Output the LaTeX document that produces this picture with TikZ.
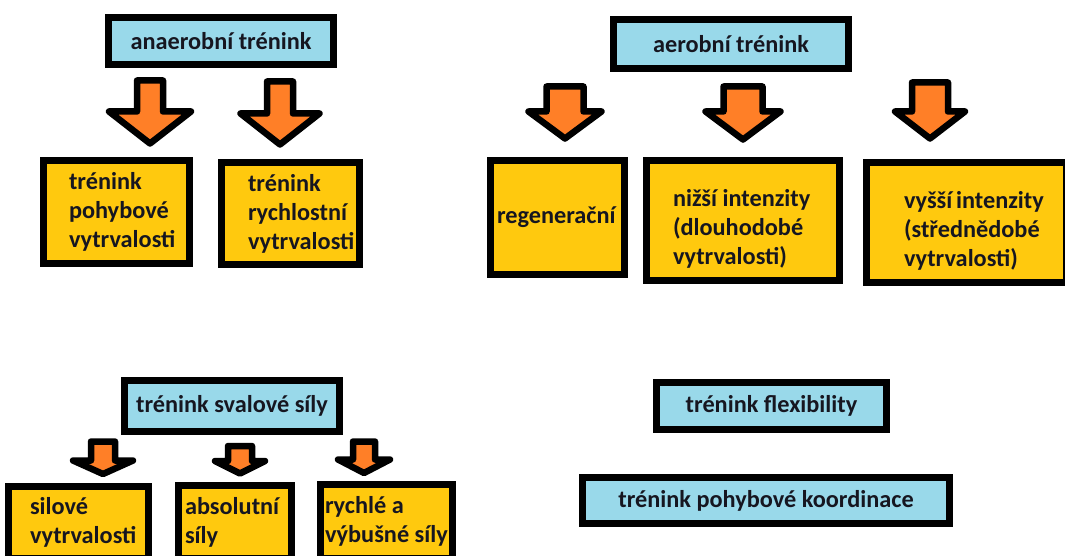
\documentclass[tikz,border=0pt]{standalone}
\usepackage{fontspec}
\setmainfont{Carlito}

\definecolor{boxblue}{RGB}{153,217,234}
\definecolor{boxyellow}{RGB}{255,201,14}
\definecolor{arroworange}{RGB}{255,127,39}
\definecolor{inkdark}{RGB}{22,22,32}

\newcommand{\boxfont}{\bfseries\fontsize{24.3}{29}\selectfont\hyphenpenalty 10000\relax}
\newcommand{\lowstrut}{\rule{0pt}{34pt}}

\tikzset{
  labelfont/.style={font=\boxfont, text=inkdark},
  headbox/.style={draw=black, line width=7.5pt, fill=boxblue, inner sep=0pt, labelfont},
  itembox/.style={draw=black, line width=7.5pt, fill=boxyellow, inner ysep=0pt, align=flush left, labelfont},
  arrowshape/.style={draw=black, line width=6.5pt, fill=arroworange, line join=round}
}

% block arrow: centre x, top, shoulder, tip, shaft half width, head half width
\newcommand{\blockarrow}[6]{%
  \draw[arrowshape] ({#1-#5},#2) -- ({#1+#5},#2) -- ({#1+#5},#3) -- ({#1+#6},#3)
    -- (#1,#4) -- ({#1-#6},#3) -- ({#1-#5},#3) -- cycle;}

\begin{document}
\begin{tikzpicture}[x=1pt, y=-1pt]
    \fill[white] (0,0) rectangle (1065,556);
    \useasboundingbox (0,0) rectangle (1065,556);
    \clip (0,0) rectangle (1065,556);

    % Anaerobic branch
    \node[headbox, minimum width=225pt, minimum height=47pt] (anaerobni) at (221,41) {anaerobní trénink};
    \node[itembox, minimum height=103pt, inner xsep=25.5pt, text width=95pt] (pohybova) at (116.5,212) {trénink\\pohybové\\vytrvalosti};
    \node[itembox, minimum height=102pt, inner xsep=26.5pt, text width=85pt] (rychlostni) at (290.5,213.5) {trénink\\rychlostní\\vytrvalosti};
    \blockarrow{150}{80.5}{111.5}{143.5}{13}{41}
    \blockarrow{280}{81.5}{113.5}{144.5}{13}{39.5}

    % Aerobic branch
    \node[headbox, minimum width=235pt, minimum height=49pt] (aerobni) at (731,44) {aerobní trénink};
    \node[itembox, minimum height=114pt, inner xsep=6.5pt, text width=121pt] (regeneracni) at (557.5,217.5) {regenerační};
    \node[itembox, minimum height=120pt, inner xsep=26.5pt, text width=140pt] (nizsi) at (743,220.5) {\lowstrut nižší~intenzity\\(dlouhodobé\\vytrvalosti)};
    \node[itembox, minimum height=120pt, inner xsep=37.5pt, text width=125pt] (vyssi) at (966.5,222.5) {\lowstrut vyšší~intenzity\\(střednědobé\\vytrvalosti)};
    \blockarrow{565}{86.5}{111.5}{138.5}{18.5}{36.5}
    \blockarrow{743}{86.5}{111.5}{139.5}{19.5}{37.5}
    \blockarrow{930}{82.5}{111.5}{138.5}{18}{35}

    % Muscle strength branch
    \node[headbox, minimum width=215pt, minimum height=51pt] (svalova) at (232,406) {trénink svalové síly};
    \node[itembox, minimum height=72pt, inner xsep=21.5pt, text width=97pt] (silova) at (78.5,522.5) {silové\\vytrvalosti};
    \node[itembox, minimum height=73pt, inner xsep=6.5pt, text width=100pt] (absolutni) at (235,522) {absolutní\\síly};
    \node[itembox, minimum height=74pt, inner xsep=4.5pt, text width=123pt] (vybusna) at (386.5,521.5) {rychlé~a\\výbušné~síly};
    \blockarrow{103}{441.5}{460.5}{474}{12}{30}
    \blockarrow{240}{446}{461}{473.5}{12}{25}
    \blockarrow{364}{441.5}{459.5}{473}{11}{26}

    % Single boxes
    \node[headbox, minimum width=230pt, minimum height=47pt] (flexibilita) at (771.5,406) {trénink flexibility};
    \node[headbox, minimum width=367pt, minimum height=46pt] (koordinace) at (766,500.5) {trénink pohybové koordinace};
\end{tikzpicture}
\end{document}
